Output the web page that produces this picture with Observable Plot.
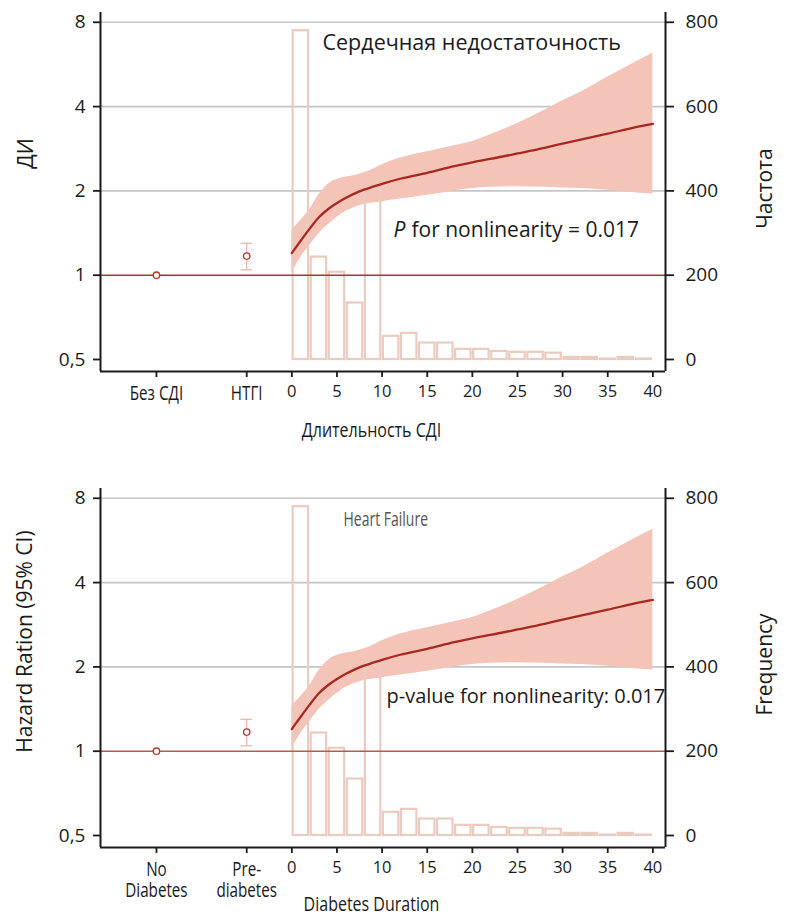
<!DOCTYPE html>
<html>
<head>
<meta charset="utf-8">
<script src="https://cdn.jsdelivr.net/npm/d3@7"></script>
<script src="https://cdn.jsdelivr.net/npm/@observablehq/plot@0.6"></script>
<style>
  html, body { margin: 0; padding: 0; background: #fff; }
  #chart svg { display: block; }
</style>
</head>
<body>
<div id="chart"></div>
<script>
// ---------- data ----------
const durations = [0, 1, 2, 3, 4, 5, 6, 7, 8, 9, 10, 12, 15, 18, 20, 22, 25, 28, 30, 32, 35, 38, 40];
const hrFit   = [1.20, 1.33, 1.47, 1.61, 1.72, 1.81, 1.89, 1.96, 2.02, 2.07, 2.12, 2.21, 2.32, 2.45, 2.53, 2.60, 2.72, 2.85, 2.95, 3.05, 3.20, 3.37, 3.47];
const hrLower = [1.02, 1.16, 1.28, 1.41, 1.51, 1.61, 1.69, 1.75, 1.79, 1.81, 1.83, 1.87, 1.93, 2.00, 2.04, 2.06, 2.07, 2.06, 2.05, 2.04, 2.01, 1.97, 1.95];
const hrUpper = [1.45, 1.57, 1.72, 1.94, 2.11, 2.20, 2.24, 2.27, 2.32, 2.39, 2.48, 2.62, 2.76, 2.90, 3.00, 3.17, 3.48, 3.88, 4.20, 4.50, 5.10, 5.75, 6.20];

const binStart = [0, 2, 4, 6, 8, 10, 12, 14, 16, 18, 20, 22, 24, 26, 28, 30, 32, 34, 36, 38];
const binEnd   = [2, 4, 6, 8, 10, 12, 14, 16, 18, 20, 22, 24, 26, 28, 30, 32, 34, 36, 38, 40];
const binCount = [780, 243, 207, 134, 405, 55, 62, 39, 39, 24, 24, 19, 17, 17, 15, 5, 5, 1, 5, 1];

const groupsRu = ["Без СДІ", "НТГІ"];
const groupsEn = ["No\nDiabetes", "Pre-\ndiabetes"];
const groupHR  = [1, 1.17];
const groupLo  = [1, 1.045];
const groupHi  = [1, 1.30];

const hrTicks   = [0.5, 1, 2, 4, 8];
const hrLabels  = ["0,5", "1", "2", "4", "8"];
const freqTicks = [0, 200, 400, 600, 800];
const durTicks  = [0, 5, 10, 15, 20, 25, 30, 35, 40];
const gridHR    = [2, 4, 8];

// ---------- layout ----------
const groupSlot = [-15, -5];          // where the two reference groups sit on the x scale
const xDomain = [-21.2, 41.4];
const yDomain = [0.453, 8.67];
const capHalf = 0.65;
// right (frequency) axis is aligned so that 0 ↔ 0.5 and each 200 ↔ one doubling
const freqToHR = f => 0.5 * Math.pow(2, f / 200);
const hrToFreq = h => 200 * (Math.log2(h) + 1);
const nearestIndex = (arr, v) => d3.minIndex(arr, t => Math.abs(Math.log(t / v)));

const SANS = "'Open Sans', 'Noto Sans', sans-serif";
const NARROW = "'Open Sans', 'narrow-face', sans-serif";   // condensed below with scaleX

const curveRows = durations.map((d, i) => ({d, fit: hrFit[i], lo: hrLower[i], hi: hrUpper[i]}));
const binRows = binStart.map((s, i) => ({s, e: binEnd[i], hr: freqToHR(binCount[i])}));

function condense(svg) {
  svg.querySelectorAll('g[font-family*="narrow-face"] text').forEach(t => {
    const k = +(t.closest("g[data-sx]")?.getAttribute("data-sx") || 0.8);
    const tf = t.getAttribute("transform");
    if (tf) t.setAttribute("transform", tf + ` scale(${k},1)`);
    else {
      const x = +(t.getAttribute("x") || 0), y = +(t.getAttribute("y") || 0);
      t.removeAttribute("x"); t.removeAttribute("y");
      t.setAttribute("transform", `translate(${x},${y}) scale(${k},1)`);
    }
  });
}

function panel(cfg) {
  const groupRows = groupSlot.map((x, i) => ({x, hr: groupHR[i], lo: groupLo[i], hi: groupHi[i], name: cfg.groups[i]}));
  const ciRows = groupRows.filter(r => r.hi > r.lo);
  const marks = [
    Plot.ruleY(gridHR, {stroke: "#c6c6c6", strokeWidth: 1.6}),
    Plot.areaY(curveRows, {x: "d", y1: "lo", y2: "hi", fill: "#f4c4b9", curve: "monotone-x"}),
    Plot.rect(binRows, {x1: "s", x2: "e", y1: 0.5, y2: "hr", fill: "none", stroke: "#ebcbbf", strokeWidth: 2.2, insetLeft: 1.3, insetRight: 1.3}),
    Plot.ruleY([1], {stroke: cfg.refColor, strokeWidth: 1.6}),
    Plot.line(curveRows, {x: "d", y: "fit", stroke: "#a8281f", strokeWidth: 2.3, curve: "monotone-x"}),
    Plot.ruleX(ciRows, {x: "x", y1: "lo", y2: "hi", stroke: "#e8b2a4", strokeWidth: 1.2}),
    Plot.ruleY(ciRows, {y: "lo", x1: d => d.x - capHalf, x2: d => d.x + capHalf, stroke: "#e8b2a4", strokeWidth: 1.2}),
    Plot.ruleY(ciRows, {y: "hi", x1: d => d.x - capHalf, x2: d => d.x + capHalf, stroke: "#e8b2a4", strokeWidth: 1.2}),
    Plot.dot(groupRows, {x: "x", y: "hr", r: 3.2, stroke: "#b0342b", fill: "white", strokeWidth: 1.3}),
    // axis lines
    Plot.ruleX([xDomain[0]], {stroke: "#1a1a1a", strokeWidth: 2}),
    Plot.ruleX([xDomain[1]], {stroke: "#1a1a1a", strokeWidth: 2}),
    Plot.ruleY([yDomain[0]], {stroke: "#1a1a1a", strokeWidth: 2}),
    // axes (text option used directly: log-scale tickFormat would hide the 8 label)
    Plot.axisY(hrTicks, {anchor: "left", tickSize: 7, tickPadding: 8, strokeWidth: 1.8,
      text: d => hrLabels[nearestIndex(hrTicks, d)], fontSize: 19, fontFamily: SANS, label: null}),
    Plot.axisY(freqTicks.map(freqToHR), {anchor: "right", tickSize: 8, tickPadding: 12, strokeWidth: 1.8,
      text: d => String(Math.round(hrToFreq(d))), fontSize: 19, fontFamily: SANS, label: null}),
    Plot.axisX(durTicks, {anchor: "bottom", tickSize: 6, tickPadding: 8, strokeWidth: 1.8,
      fontSize: 16.5, fontFamily: SANS, label: null}),
    Plot.axisX(groupSlot, {anchor: "bottom", tickSize: 6, tickPadding: 7, strokeWidth: 1.8,
      tickFormat: d => cfg.groups[d3.minIndex(groupSlot, t => Math.abs(t - d))], fontSize: 19.5, fontFamily: NARROW, lineHeight: 1.1, label: null}),
    // titles
    Plot.text([cfg.yTitle], {text: d => d, frameAnchor: "left", textAnchor: "middle", lineAnchor: "middle", rotate: -90,
      dx: cfg.yTitleDx, dy: cfg.yTitleDy, fontSize: 21, fontFamily: SANS, fill: "#1a1a1a"}),
    Plot.text([cfg.y2Title], {text: d => d, frameAnchor: "right", textAnchor: "middle", lineAnchor: "middle", rotate: -90,
      dx: 100, dy: -3.5, fontSize: 21, fontFamily: SANS, fill: "#1a1a1a"}),
    Plot.text([cfg.xTitle], {text: d => d, frameAnchor: "bottom", textAnchor: "middle", lineAnchor: "middle",
      dx: -11.5, dy: cfg.xTitleDy, fontSize: 20, fontFamily: NARROW, fill: "#1a1a1a"}),
    Plot.text([cfg.title], {text: d => d, frameAnchor: "top-left", textAnchor: "start", lineAnchor: "middle", dx: cfg.titleDx, dy: 31,
      fontSize: cfg.titleSize, fontFamily: cfg.titleFont, fill: cfg.titleColor}),
    ...cfg.noteMarks
  ];
  const svg = Plot.plot({
    width: 789, height: 476,
    marginLeft: 100, marginRight: 124, marginTop: 12, marginBottom: 105,
    x: {domain: xDomain},
    y: {type: "log", domain: yDomain},
    style: {fontFamily: SANS, fontSize: "19px", color: "#1a1a1a", background: "white", overflow: "visible"},
    marks
  });
  // condensed faces: per-text horizontal scale
  svg.querySelectorAll('g[font-family*="narrow-face"]').forEach(g => {
    let k = 0.8;
    if (g.textContent.includes(cfg.title)) k = cfg.titleScale;
    else if (g.getAttribute("aria-label") === "x-axis tick label") k = 0.78;
    g.setAttribute("data-sx", k);
  });
  condense(svg);
  return svg;
}

const topPanel = panel({
  groups: groupsRu, refColor: "#b3322a",
  yTitle: "ДИ", yTitleDx: -74, yTitleDy: -38.5,
  y2Title: "Частота",
  xTitle: "Длительность СДІ", xTitleDy: 59,
  title: "Сердечная недостаточность", titleDx: 222, titleSize: 21.5, titleFont: SANS, titleColor: "#1a1a1a", titleScale: 1,
  noteMarks: [
    Plot.text(["P"], {text: d => d, frameAnchor: "top-left", textAnchor: "start", lineAnchor: "middle", dx: 293, dy: 218, fontSize: 21, fontStyle: "italic", fontFamily: SANS, fill: "#1a1a1a"}),
    Plot.text(["for nonlinearity = 0.017"], {text: d => d, frameAnchor: "top-left", textAnchor: "start", lineAnchor: "middle", dx: 311, dy: 218, fontSize: 21, fontFamily: SANS, fill: "#1a1a1a"})
  ]
});

const bottomPanel = panel({
  groups: groupsEn, refColor: "#c0554c",
  yTitle: "Hazard Ration (95% CI)", yTitleDx: -75, yTitleDy: -26.5,
  y2Title: "Frequency",
  xTitle: "Diabetes Duration", xTitleDy: 57,
  title: "Heart Failure", titleDx: 243, titleSize: 20, titleFont: NARROW, titleColor: "#555", titleScale: 0.7,
  noteMarks: [
    Plot.text(["p-value for nonlinearity: 0.017"], {text: d => d, frameAnchor: "top-left", textAnchor: "start", lineAnchor: "middle", dx: 286, dy: 208, fontSize: 20, fontFamily: SANS, fill: "#1a1a1a"})
  ]
});

document.getElementById("chart").append(topPanel, bottomPanel);
</script>
</body>
</html>
